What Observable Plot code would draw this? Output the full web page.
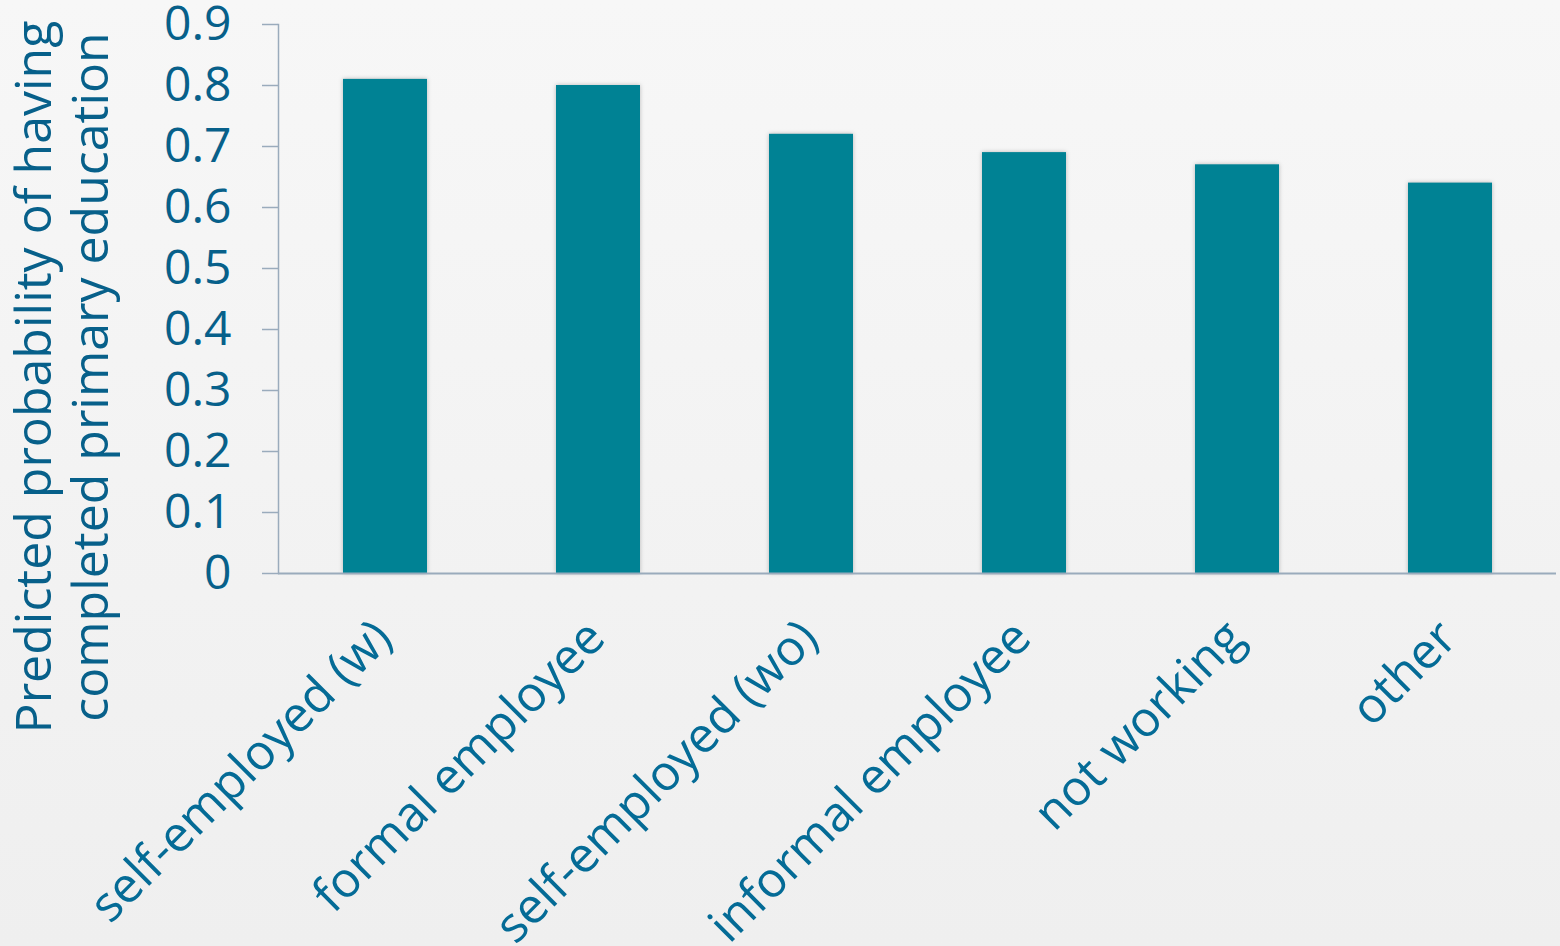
<!DOCTYPE html>
<html>
<head>
<meta charset="utf-8">
<script src="https://cdn.jsdelivr.net/npm/d3@7"></script>
<script src="https://cdn.jsdelivr.net/npm/@observablehq/plot@0.6"></script>
<style>
  html, body { margin: 0; padding: 0; }
  body {
    width: 1560px; height: 946px; overflow: hidden;
    background: linear-gradient(to bottom, #f7f7f7 0%, #efefef 100%);
  }
  #chart svg { display: block; }
</style>
</head>
<body>
<div id="chart"></div>
<script>
// ---- data ----
const categories = ["self-employed (w)", "formal employee", "self-employed (wo)", "informal employee", "not working", "other"];
const values = [0.81, 0.80, 0.72, 0.69, 0.67, 0.64];
const yTicks = [0, 0.1, 0.2, 0.3, 0.4, 0.5, 0.6, 0.7, 0.8, 0.9];
const yTitle = "Predicted probability of having\ncompleted primary education";

const data = categories.map((c, i) => ({category: c, value: values[i]}));

const textColor = "#07608a";
const xTextColor = "#046b96";
const axisColor = "#9aabbc";
const barColor = "#008294";
const font = "'Open Sans', 'Noto Sans', sans-serif";

const chart = Plot.plot({
  width: 1560,
  height: 946,
  marginLeft: 278,
  marginRight: 4,
  marginTop: 24,
  marginBottom: 373,
  style: {background: "transparent", fontFamily: font, color: textColor, overflow: "visible"},
  x: {domain: categories, paddingInner: 0.606, paddingOuter: 0.303, label: null},
  y: {domain: [0, 0.9], label: null},
  marks: [
    Plot.barY(data, {x: "category", y: "value", fill: barColor}),
    Plot.frame({anchor: "left", stroke: axisColor, strokeWidth: 1.5}),
    Plot.ruleY([0], {stroke: axisColor, strokeWidth: 2}),
    Plot.axisY({
      ticks: yTicks,
      tickSize: 16,
      tickPadding: 31,
      stroke: axisColor,
      strokeWidth: 1.5,
      fill: textColor,
      fontSize: 48,
      tickFormat: d => d === 0 ? "0" : d.toFixed(1),
      label: null
    }),
    Plot.axisX({
      tickSize: 0,
      tickRotate: -45,
      tickPadding: 67,
      dx: 9,
      lineAnchor: "bottom",
      textAnchor: "end",
      fill: xTextColor,
      fontSize: 49,
      label: null
    }),
    Plot.text([yTitle], {
      frameAnchor: "left",
      dx: -217,
      dy: 78,
      rotate: -90,
      fontSize: 50,
      lineHeight: 57 / 50,
      fill: textColor,
      textAnchor: "middle"
    })
  ]
});

d3.select(chart).selectAll("rect").filter(function() {
  return d3.select(this).attr("fill") === barColor || d3.select(this.parentNode).attr("fill") === barColor;
}).style("filter", "drop-shadow(0 0 2px rgba(0,0,0,0.25))");

document.getElementById("chart").appendChild(chart);
</script>
</body>
</html>
